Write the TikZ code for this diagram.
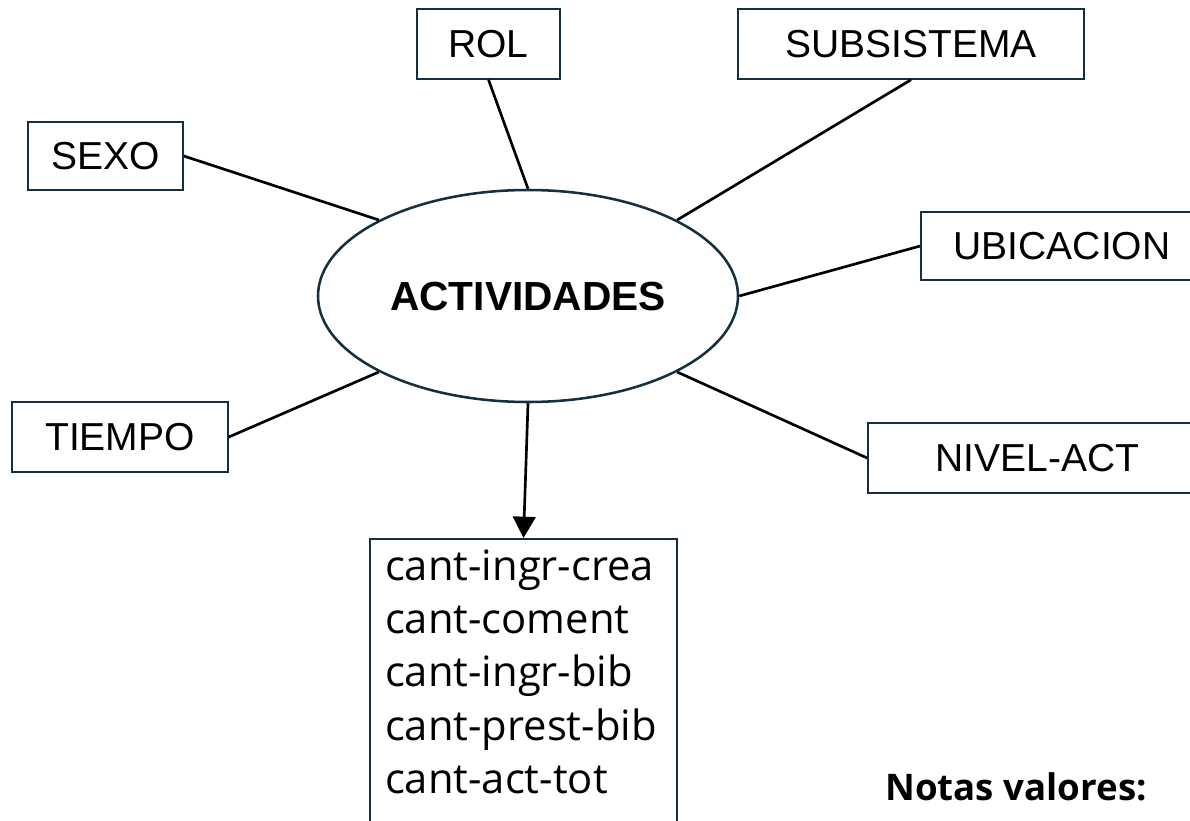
\documentclass[tikz,border=0pt]{standalone}
\usepackage{fontspec}
\setmainfont{Liberation Sans}
\newfontfamily\aptos{Open Sans}
\usetikzlibrary{shapes.geometric, arrows.meta}
\definecolor{navy}{HTML}{12303F}

\begin{document}
\begin{tikzpicture}[x = 0.75pt, y = -0.75pt,
  dim/.style = {draw = navy, line width = 1.2pt, fill = white, inner sep = 0pt,
    minimum height = 52.5pt, font = \fontsize{29.25pt}{35pt}\selectfont},
  link/.style = {line width = 2pt}]
\useasboundingbox (0, 0) rectangle (1190, 821);
\clip (0, 0) rectangle (1190, 821);
%\draw[very thin, color = gray](0, 0) grid[step = 100] (1190, 821);
\node (act) [ellipse, draw = navy, line width = 1.9pt, fill = white, inner sep = 0pt,
  minimum width = 315pt, minimum height = 159pt,
  font = \fontsize{30.5pt}{36pt}\selectfont\bfseries] at (528, 296) {ACTIVIDADES};
\node (rol) [dim, minimum width = 107.25pt] at (488.5, 44) {ROL};
\node (subsistema) [dim, minimum width = 259.5pt] at (911, 44) {SUBSISTEMA};
\node (sexo) [dim, minimum width = 116.25pt, minimum height = 51pt] at (105.5, 156) {SEXO};
\node (ubicacion) [dim, minimum width = 211.5pt, minimum height = 51pt] at (1062, 246) {UBICACION};
\node (tiempo) [dim, minimum width = 162pt] at (120, 437) {TIEMPO};
\node (nivel) [dim, minimum width = 254.25pt] at (1037.5, 458) {NIVEL-ACT};
\node (lista) [draw = navy, line width = 1.2pt, anchor = north, text width = 207.75pt,
  align = left, inner xsep = 11.25pt, inner ysep = 8pt, text depth = 220pt,
  font = \aptos\fontsize{31.3pt}{40pt}\selectfont] at (523.5, 538)
  {cant-ingr-crea\\ cant-coment\\ cant-ingr-bib\\ cant-prest-bib\\ cant-act-tot};
\node (notas) [anchor = base west, inner sep = 0pt,
  font = \aptos\bfseries\fontsize{27.5pt}{33pt}\selectfont] at (885, 800) {Notas valores:};
\draw [link] (rol.south) -- (act.north);
\draw [link] (subsistema.south) -- (act.27);
\draw [link] (sexo.east) -- (act.153);
\draw [link] (ubicacion.west) -- (act.east);
\draw [link] (tiempo.east) -- (act.207);
\draw [link] (nivel.west) -- (act.333);
\draw [link, -{Triangle[width = 17pt, length = 16pt]}] (act.south) -- (lista.north);
\end{tikzpicture}
\end{document}
